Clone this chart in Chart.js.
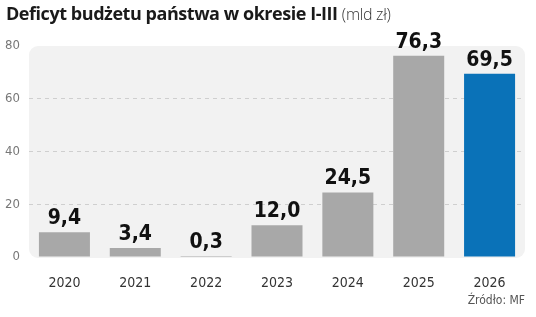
<!DOCTYPE html>
<html>
<head>
<meta charset="utf-8">
<script src="https://cdn.jsdelivr.net/npm/chart.js@4/dist/chart.umd.min.js"></script>
<style>
  html, body { margin: 0; padding: 0; background: #fff; }
  #wrap { position: relative; width: 536px; height: 317px; overflow: hidden; }
  #title { position: absolute; left: 6px; top: 1px; font-family: "Open Sans", sans-serif; font-size: 18px; font-weight: 700; color: #1a1a1a; white-space: nowrap; letter-spacing: -0.45px; }
  #title span { font-weight: 300; font-size: 16px; color: #333; letter-spacing: -0.3px; }
  #source { position: absolute; right: 11px; top: 293px; font-family: "DejaVu Sans Condensed", "DejaVu Sans", sans-serif; font-size: 12px; color: #555; }
  canvas { position: absolute; left: 0; top: 0; }
</style>
</head>
<body>
<div id="wrap">
  <canvas id="chart" width="536" height="317"></canvas>
  <div id="title">Deficyt budżetu państwa w okresie I-III <span>(mld zł)</span></div>
  <div id="source">Źródło: MF</div>
</div>
<script>
const years = ['2020', '2021', '2022', '2023', '2024', '2025', '2026'];
const deficit = [9.4, 3.4, 0.3, 12.0, 24.5, 76.3, 69.5];
const barColors = ['#a8a8a8', '#a8a8a8', '#a8a8a8', '#a8a8a8', '#a8a8a8', '#a8a8a8', '#0a72b8'];
const yTicks = [0, 20, 40, 60, 80];

const condensed = '"DejaVu Sans Condensed", "DejaVu Sans", sans-serif';
const narrow = '"Liberation Sans Narrow", "DejaVu Sans Condensed", sans-serif';

// szare zaokraglone tlo pod obszarem wykresu
const plotBg = {
  id: 'plotBg',
  beforeDraw(chart) {
    const { ctx, chartArea: a } = chart;
    ctx.save();
    ctx.fillStyle = '#f2f2f2';
    ctx.beginPath();
    ctx.roundRect(a.left, a.top, a.right - a.left, a.bottom - a.top + 1, 9);
    ctx.fill();
    ctx.restore();
  }
};

// wartosci nad slupkami
const valueLabels = {
  id: 'valueLabels',
  afterDatasetsDraw(chart) {
    const { ctx } = chart;
    const meta = chart.getDatasetMeta(0);
    ctx.save();
    ctx.font = 'bold 21px ' + narrow;
    ctx.fillStyle = '#111';
    ctx.textAlign = 'center';
    ctx.textBaseline = 'alphabetic';
    meta.data.forEach((bar, i) => {
      const txt = deficit[i].toFixed(1).replace('.', ',');
      ctx.fillText(txt, bar.x, bar.y - 8);
    });
    ctx.restore();
  }
};

new Chart(document.getElementById('chart'), {
  type: 'bar',
  data: {
    labels: years,
    datasets: [{
      data: deficit,
      backgroundColor: barColors,
      borderWidth: 0,
      categoryPercentage: 0.72,
      barPercentage: 1,
      minBarLength: 1
    }]
  },
  options: {
    responsive: false,
    animation: false,
    events: [],
    layout: { padding: { top: 46, right: 11, left: 0, bottom: 0 } },
    plugins: { legend: { display: false }, tooltip: { enabled: false } },
    scales: {
      x: {
        grid: { display: false },
        border: { display: false },
        ticks: { color: '#333', font: { family: condensed, size: 14 }, padding: 10 },
        afterFit(scale) { scale.height = 60; }
      },
      y: {
        min: 0,
        max: 80,
        afterBuildTicks(scale) { scale.ticks = yTicks.map(v => ({ value: v })); },
        grid: {
          color: ctx => (ctx.tick && (ctx.tick.value === 0 || ctx.tick.value === 80)) ? 'rgba(0,0,0,0)' : '#cfcfcf',
          lineWidth: 1,
          drawTicks: false
        },
        border: { display: false, dash: [4, 4] },
        ticks: { color: '#777', font: { family: condensed, size: 13 }, padding: 9 },
        afterFit(scale) { scale.width = 29; }
      }
    }
  },
  plugins: [plotBg, valueLabels]
});
</script>
</body>
</html>
